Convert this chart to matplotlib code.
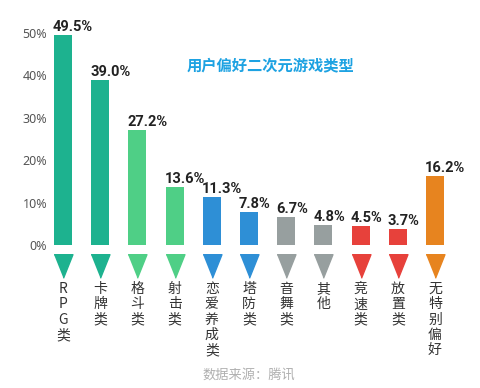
import matplotlib
matplotlib.use('Agg')
import matplotlib.pyplot as plt

plt.rcParams['font.family'] = ['Noto Sans CJK SC', 'DejaVu Sans']

# data
categories = ['RPG类', '卡牌类', '格斗类', '射击类', '恋爱养成类', '塔防类',
              '音舞类', '其他', '竞速类', '放置类', '无特别偏好']
values = [49.5, 39.0, 27.2, 13.6, 11.3, 7.8, 6.7, 4.8, 4.5, 3.7, 16.2]
colors = ['#1db28f', '#1db28f', '#4fcf86', '#4fcf86', '#2e8fd6', '#2e8fd6',
          '#979f9f', '#979f9f', '#e7413b', '#e7413b', '#e7841f']
yticks = [0, 10, 20, 30, 40, 50]

W, H = 480, 388
fig = plt.figure(figsize=(W / 100, H / 100), dpi=100)
fig.patch.set_facecolor('white')

# axes placed in pixels: bar 0 centre at x=63, bar 10 at x=435
step = (435 - 63) / 10
left = 63 - 0.8 * step
right = 435 + 0.8 * step
y0 = 245            # pixel row of 0%
ppu = (245 - 33) / 50.0   # pixels per percent
top_val = 55
ax = fig.add_axes([left / W, 1 - y0 / H, (right - left) / W, top_val * ppu / H])
ax.set_xlim(-0.8, 10.8)
ax.set_ylim(0, top_val)

x = list(range(len(values)))
bar_w = 18 / step
ax.bar(x, values, width=bar_w, color=colors, zorder=2)

# value labels, left aligned on the bar's left edge
for xi, v in zip(x, values):
    ax.text(xi - bar_w / 2 - 0.03, v + 0.2, '%.1f%%' % v, ha='left', va='bottom',
            fontsize=10.5, fontweight='bold', color='#222222', family='Roboto')

# down-pointing triangles below the bars
tri = [(-0.4, 0.5), (0.4, 0.5), (0, -0.5)]
for xi, c in zip(x, colors):
    ax.plot(xi, -(266 - y0) / ppu, marker=tri, markersize=17, color=c,
            linestyle='none', clip_on=False)

# vertical category labels, one character per line
for xi, name in zip(x, categories):
    ax.text(xi, -(282 - y0) / ppu, '\n'.join(name), ha='center', va='top',
            fontsize=10, color='#333333', linespacing=1.12)

ax.set_yticks(yticks)
ax.set_yticklabels(['%d%%' % t for t in yticks], fontsize=9, color='#555555',
                   family='Noto Sans')
ax.set_xticks([])
ax.tick_params(axis='y', length=0, pad=-10)
for s in ax.spines.values():
    s.set_visible(False)

fig.text(270 / W, 1 - 65 / H, '用户偏好二次元游戏类型', ha='center', va='center',
         fontsize=11, fontweight='bold', color='#1da2e2')
fig.text(249 / W, 1 - 375 / H, '数据来源：腾讯', ha='center', va='center',
         fontsize=9.5, color='#b0b0b0')

fig.savefig('out.png', dpi=100)
